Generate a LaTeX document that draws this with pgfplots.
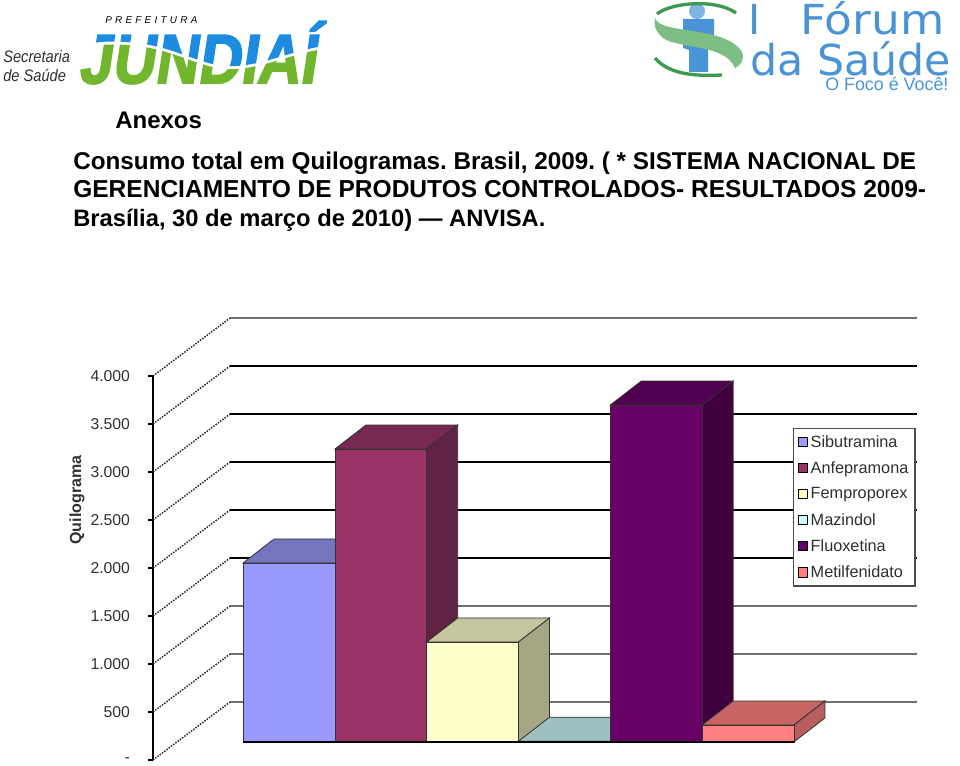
\documentclass[border=0pt]{standalone}
\usepackage{fontspec}
\setmainfont{Liberation Sans}
\newfontfamily\logofont[FakeBold=2.5,FakeSlant=0.18]{Liberation Sans Bold}
\newfontfamily\forumfont{DejaVu Sans}
\usepackage{graphicx}
\usepackage{pgfplots}
\pgfplotsset{compat=1.18}
\definecolor{jblue}{HTML}{1C8BE0}
\definecolor{jgreen}{HTML}{72B62E}
\definecolor{fblue}{HTML}{4A94D6}
\definecolor{fgreen}{HTML}{7DBE84}
\definecolor{fdark}{HTML}{3E9A50}
\definecolor{gridgray}{HTML}{707070}
\definecolor{txt}{HTML}{303030}
\frenchspacing
\begin{document}
\begin{tikzpicture}
\useasboundingbox (0,0) rectangle (720pt,573.75pt);
% page layer, coordinates are reference pixels
\begin{axis}[
    at={(0pt,0pt)}, anchor=south west,
    scale only axis, width=720pt, height=573.75pt,
    xmin=0, xmax=960, ymin=0, ymax=765, y dir=reverse,
    hide axis, clip=false,
]
% Jundiai logo
\node[anchor=base west,inner sep=0pt,text=txt,font=\fontsize{12.5}{14}\selectfont\itshape] at (3,63) {\scalebox{0.88}[1]{Secretaria}};
\node[anchor=base west,inner sep=0pt,text=txt,font=\fontsize{12.5}{14}\selectfont\itshape] at (3,82) {\scalebox{0.88}[1]{de Saúde}};
\node[anchor=base west,inner sep=0pt,text=black,font=\fontsize{7.4}{9}\selectfont\itshape] at (105,24) {P\,\,R\,\,E\,\,F\,\,E\,\,I\,\,T\,\,U\,\,R\,\,A};
\begin{scope}
\clip (70,15) -- (330,15) -- (330,45) .. controls (290,50) and (260,68) .. (225,66) .. controls (190,63) and (165,38) .. (100,42) -- (70,46) -- cycle;
\node[anchor=north west,inner sep=0pt,text=jblue] at (78,21) {\resizebox{178pt}{46.5pt}{\logofont JUNDIAÍ}};
\end{scope}
\begin{scope}
\clip (70,90) -- (330,90) -- (330,48) .. controls (290,53) and (260,71) .. (225,69) .. controls (190,66) and (165,41) .. (100,45) -- (70,49) -- cycle;
\node[anchor=north west,inner sep=0pt,text=jgreen] at (78,21) {\resizebox{178pt}{46.5pt}{\logofont JUNDIAÍ}};
\end{scope}
% Forum logo
\fill[fblue!70] (697,11) circle[radius=6pt];
\fill[fblue] (683,19) -- (714,19) -- (714,48) -- (708,50) -- (708,72) -- (689,72) -- (689,50) -- (683,48) -- cycle;
\draw[fdark,line width=2.5pt] (657,14) .. controls (670,3) and (715,-2) .. (736,13);
\draw[fdark,line width=2.5pt] (655,58) .. controls (670,76) and (700,76) .. (722,75);
\fill[fgreen] (655,18) .. controls (660,35) and (725,25) .. (742,52) .. controls (745,60) and (740,66) .. (735,68)
   .. controls (725,42) and (670,50) .. (660,35) .. controls (655,30) and (654,25) .. (655,18) -- cycle;
\node[anchor=base west,inner sep=0pt,text=fblue,font=\fontsize{31}{34}\selectfont\forumfont] at (748,35) {I};
\node[anchor=base west,inner sep=0pt,text=fblue,font=\fontsize{31}{34}\selectfont\forumfont] at (800,35) {\scalebox{1.1}[1]{Fórum}};
\node[anchor=base west,inner sep=0pt,text=fblue,font=\fontsize{32}{34}\selectfont\forumfont] at (750,75) {da Saúde};
\node[anchor=base west,inner sep=0pt,text=fblue,font=\fontsize{13.4}{15}\selectfont] at (825,91) {O Foco é Você!};
% heading
\node[anchor=base west,inner sep=0pt,font=\fontsize{18}{20}\selectfont\bfseries] at (115,128) {Anexos};
\node[anchor=base west,inner sep=0pt,font=\fontsize{18.2}{20}\selectfont\bfseries] at (73,169) {Consumo total em Quilogramas. Brasil, 2009. ( * SISTEMA NACIONAL DE};
\node[anchor=base west,inner sep=0pt,font=\fontsize{18.4}{20}\selectfont\bfseries] at (73,197) {GERENCIAMENTO DE PRODUTOS CONTROLADOS- RESULTADOS 2009-};
\node[anchor=base west,inner sep=0pt,font=\fontsize{17.8}{20}\selectfont\bfseries] at (73,226) {Brasília, 30 de março de 2010) — ANVISA.};
\end{axis}

% chart: x is the category index, y is kg with 0 on the plane of the bars
\begin{axis}[
    at={(114.75pt,3.75pt)}, anchor=south west,
    scale only axis, width=573pt, height=288pt,
    xmin=-1.4815, xmax=6.841, ymin=-187.5, ymax=3812.5,
    clip=false,
    axis x line=none, axis y line=left,
    axis line style={-,black,line width=1.5pt},
    xtick=\empty,
    ytick={-187.5,312.5,812.5,1312.5,1812.5,2312.5,2812.5,3312.5,3812.5},
    yticklabels={\raisebox{-3pt}{-}\hspace{11pt},500,1.000,1.500,2.000,2.500,3.000,3.500,4.000},
    tick align=outside, major tick length=3.75pt,
    ytick style={black,line width=0.8pt},
    yticklabel style={font=\fontsize{11.8}{13}\selectfont,text=txt,xshift=-10pt},
    ylabel={Quilograma},
    every axis y label/.style={at={(axis cs:-2.309,2520)},rotate=90,anchor=center,font=\fontsize{12}{13}\selectfont\bfseries,text=txt},
    legend image code/.code={\draw[#1,line width=0.8pt,draw=black] (3pt,-3.4pt) rectangle (10pt,3.6pt);},
    legend style={at={(axis cs:5.49,3270.8)},anchor=north west,draw=black!70,line width=1pt,
        font=\fontsize{12.2}{13}\selectfont,text=txt,row sep=5.3pt,inner xsep=3pt,inner ysep=3pt},
    legend cell align=left,
]
% walls of the chart
\pgfplotsset{frontline/.style={black!85,line width=1.1pt,densely dotted,forget plot,mark=none},
             backline/.style={black,line width=1.1pt,forget plot,mark=none},
             backgray/.style={gridgray,line width=1.5pt,forget plot,mark=none},
             face/.style={draw=black!80,line width=0.6pt,forget plot,mark=none}}
\addplot[frontline] coordinates {(-1.4815,-187.5) (-0.6427,416.67)};
\addplot[frontline] coordinates {(-1.4815,312.5) (-0.6427,916.67)};
\addplot[frontline] coordinates {(-1.4815,812.5) (-0.6427,1416.67)};
\addplot[frontline] coordinates {(-1.4815,1312.5) (-0.6427,1916.67)};
\addplot[frontline] coordinates {(-1.4815,1812.5) (-0.6427,2416.67)};
\addplot[frontline] coordinates {(-1.4815,2312.5) (-0.6427,2916.67)};
\addplot[frontline] coordinates {(-1.4815,2812.5) (-0.6427,3416.67)};
\addplot[frontline] coordinates {(-1.4815,3312.5) (-0.6427,3916.67)};
\addplot[frontline] coordinates {(-1.4815,3812.5) (-0.6427,4416.67)};
\addplot[backgray] coordinates {(-0.6427,416.67) (6.841,416.67)};
\addplot[backgray] coordinates {(-0.6427,916.67) (6.841,916.67)};
\addplot[backgray] coordinates {(-0.6427,1416.67) (6.841,1416.67)};
\addplot[backline] coordinates {(-0.6427,1916.67) (6.841,1916.67)};
\addplot[backline] coordinates {(-0.6427,2416.67) (6.841,2416.67)};
\addplot[backline] coordinates {(-0.6427,2916.67) (6.841,2916.67)};
\addplot[backline] coordinates {(-0.6427,3416.67) (6.841,3416.67)};
\addplot[backline] coordinates {(-0.6427,3916.67) (6.841,3916.67)};
\addplot[backgray] coordinates {(-0.6427,4416.67) (6.841,4416.67)};

% Sibutramina
\addplot[face,fill={rgb,255:red,117;green,117;blue,191}] coordinates {(-0.5,1865) (0.5,1865) (0.8377,2115) (-0.1623,2115)} -- cycle;
\addplot[ybar,bar width=1,bar shift=0,fill={rgb,255:red,153;green,153;blue,255},draw=black!80,line width=0.6pt] coordinates {(0,1865)};
\addlegendentry{Sibutramina}
% Anfepramona
\addplot[face,fill={rgb,255:red,119;green,40;blue,80}] coordinates {(0.5,3052) (1.5,3052) (1.8377,3302) (0.8377,3302)} -- cycle;
\addplot[face,fill={rgb,255:red,97;green,34;blue,67}] coordinates {(1.5,0) (1.8377,250) (1.8377,3302) (1.5,3052)} -- cycle;
\addplot[ybar,bar width=1,bar shift=0,fill={rgb,255:red,153;green,51;blue,102},draw=black!80,line width=0.6pt] coordinates {(1,3052)};
\addlegendentry{Anfepramona}
% Femproporex
\addplot[face,fill={rgb,255:red,198;green,198;blue,158}] coordinates {(1.5,1042) (2.5,1042) (2.8377,1292) (1.8377,1292)} -- cycle;
\addplot[face,fill={rgb,255:red,166;green,166;blue,132}] coordinates {(2.5,0) (2.8377,250) (2.8377,1292) (2.5,1042)} -- cycle;
\addplot[ybar,bar width=1,bar shift=0,fill={rgb,255:red,255;green,255;blue,204},draw=black!80,line width=0.6pt] coordinates {(2,1042)};
\addlegendentry{Femproporex}
% Mazindol
\addplot[face,fill={rgb,255:red,159;green,192;blue,192}] coordinates {(2.5,8) (3.5,8) (3.8377,258) (2.8377,258)} -- cycle;
\addplot[ybar,bar width=1,bar shift=0,fill={rgb,255:red,204;green,255;blue,255},draw=black!80,line width=0.6pt] coordinates {(3,8)};
\addlegendentry{Mazindol}
% Fluoxetina
\addplot[face,fill={rgb,255:red,80;green,0;blue,80}] coordinates {(3.5,3510) (4.5,3510) (4.8377,3760) (3.8377,3760)} -- cycle;
\addplot[face,fill={rgb,255:red,64;green,0;blue,64}] coordinates {(4.5,0) (4.8377,250) (4.8377,3760) (4.5,3510)} -- cycle;
\addplot[ybar,bar width=1,bar shift=0,fill={rgb,255:red,102;green,0;blue,102},draw=black!80,line width=0.6pt] coordinates {(4,3510)};
\addlegendentry{Fluoxetina}
% Metilfenidato
\addplot[face,fill={rgb,255:red,200;green,100;blue,100}] coordinates {(4.5,177) (5.5,177) (5.8377,427) (4.8377,427)} -- cycle;
\addplot[face,fill={rgb,255:red,184;green,94;blue,94}] coordinates {(5.5,0) (5.8377,250) (5.8377,427) (5.5,177)} -- cycle;
\addplot[ybar,bar width=1,bar shift=0,fill={rgb,255:red,255;green,128;blue,128},draw=black!80,line width=0.6pt] coordinates {(5,177)};
\addlegendentry{Metilfenidato}
% floor edge under the bars
\addplot[black,line width=1.6pt,forget plot,mark=none] coordinates {(-0.5,0) (5.5,0)};
\end{axis}
\end{tikzpicture}
\end{document}
